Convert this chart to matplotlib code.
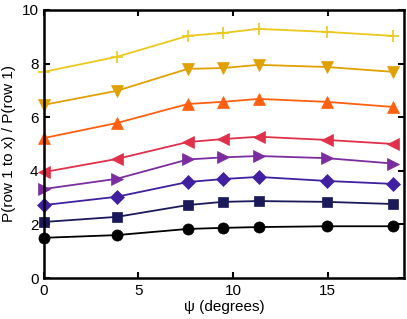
import numpy as np
import matplotlib.pyplot as plt

plt.rcParams['font.family'] = ['Liberation Sans', 'DejaVu Sans']

psi = [0, 3.85, 7.6, 9.45, 11.35, 14.95, 18.45]

row2 = [1.5, 1.6, 1.83, 1.87, 1.9, 1.93, 1.93]
row3 = [2.09, 2.28, 2.72, 2.84, 2.87, 2.84, 2.76]
row4 = [2.72, 3.03, 3.58, 3.69, 3.77, 3.62, 3.51]
row5 = [3.32, 3.7, 4.42, 4.5, 4.55, 4.47, 4.27]
row6 = [3.95, 4.44, 5.07, 5.18, 5.27, 5.15, 5.0]
row7 = [5.22, 5.78, 6.49, 6.57, 6.68, 6.57, 6.38]
row8 = [6.46, 6.98, 7.8, 7.83, 7.95, 7.87, 7.69]
row9 = [7.69, 8.25, 9.03, 9.14, 9.29, 9.18, 9.03]

series = [row2, row3, row4, row5, row6, row7, row8, row9]
colors = ['#000000', '#1a1a5a', '#4020a0', '#7b2da0', '#e0304a', '#ff6010', '#e0a000', '#ebc81e']
markers = ['o', 's', 'D', '>', '<', '^', 'v', '+']
sizes = [8, 7, 7, 9, 9, 9, 9, 9]

fig = plt.figure(figsize=(4.07, 3.19), dpi=100)
ax = fig.add_axes([0.108, 0.1285, 0.885, 0.8405])

for y, c, m, s in zip(series, colors, markers, sizes):
    ax.plot(psi, y, color=c, marker=m, markersize=s, linewidth=1.3,
            markeredgewidth=1.2 if m == '+' else 0.5, clip_on=False)

ax.set_xlim(0, 19.05)
ax.set_ylim(0, 10)
ax.set_xticks([0, 5, 10, 15])
ax.set_yticks([0, 2, 4, 6, 8, 10])
ax.tick_params(direction='in', top=True, right=True, labelsize=11, length=4, width=1.5, pad=4)
for sp in ax.spines.values():
    sp.set_linewidth(1.8)
ax.set_xlabel('ψ (degrees)', fontsize=11, labelpad=2)
ax.set_ylabel('P(row 1 to x) / P(row 1)', fontsize=11, labelpad=4)

fig.savefig('out.png', dpi=100)
